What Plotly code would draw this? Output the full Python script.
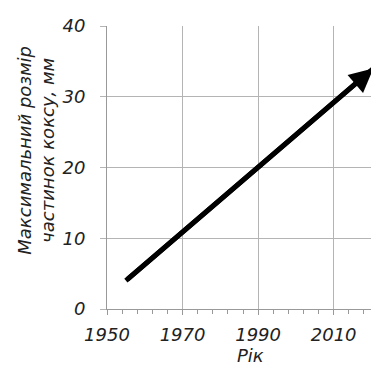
import plotly.graph_objects as go

# Data
years = [1955, 2020.5]          # start / end of trend arrow
max_size_mm = [4, 34]           # max coke particle size, mm
x_ticks = [1950, 1970, 1990, 2010]
y_ticks = [0, 10, 20, 30, 40]
x_title = "Рік"
y_title = "Максимальний розмір<br>частинок коксу, мм"

FONT = "DejaVu Sans"
# page body has an 8px offset; compensate
W, H = 371, 362
ML, MR, MT, MB = 99, 0, 18, 61

fig = go.Figure()
fig.add_trace(go.Scatter(x=years, y=max_size_mm, mode="lines",
                         line=dict(color="black", width=5), hoverinfo="skip",
                         showlegend=False))
fig.add_annotation(x=years[1], y=max_size_mm[1], ax=years[0], ay=max_size_mm[0],
                   xref="x", yref="y", axref="x", ayref="y",
                   showarrow=True, arrowhead=2, arrowsize=0.95, arrowwidth=5,
                   arrowcolor="black", text="")

fig.add_annotation(x=-0.262, y=0.562, xref="paper", yref="paper", text=y_title,
                   textangle=-90, showarrow=False,
                   font=dict(family=FONT, size=18, color="#222", style="italic"),
                   xanchor="center", yanchor="middle")
fig.add_annotation(x=0.529, y=-0.163, xref="paper", yref="paper", text=x_title,
                   showarrow=False,
                   font=dict(family=FONT, size=18, color="#222", style="italic"),
                   xanchor="center", yanchor="middle")

fig.update_xaxes(range=[1950, 2022], tickvals=x_ticks,
                 showgrid=True, gridcolor="#b4b4b4", gridwidth=1,
                 showline=True, linecolor="#999", linewidth=1,
                 ticks="outside", ticklen=5, tickcolor="#999",
                 ticklabelstandoff=4,
                 minor=dict(dtick=4, tick0=1950, ticks="outside", ticklen=4,
                            tickcolor="#999", showgrid=False),
                 zeroline=False,
                 tickfont=dict(family=FONT, size=18, color="#222", style="italic"))
fig.update_yaxes(range=[0, 40], tickvals=y_ticks,
                 showgrid=True, gridcolor="#b4b4b4", gridwidth=1,
                 showline=True, linecolor="#999", linewidth=1,
                 ticks="outside", ticklen=6, tickcolor="#b4b4b4",
                 ticklabelstandoff=11,
                 zeroline=False,
                 tickfont=dict(family=FONT, size=18, color="#222", style="italic"))

fig.update_layout(width=W, height=H, margin=dict(l=ML, r=MR, t=MT, b=MB),
                  plot_bgcolor="white", paper_bgcolor="white")
fig.write_html("out.html")
